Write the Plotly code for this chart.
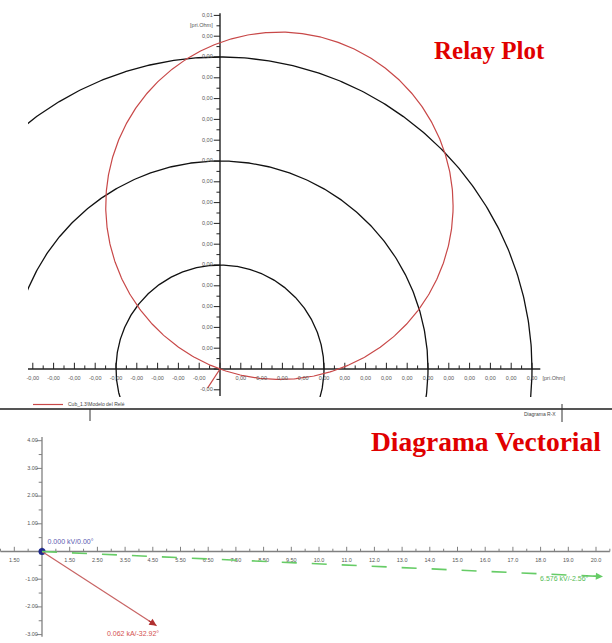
import numpy as np
import plotly.graph_objects as go

# ---------------- R-X diagram data (one unit = one axis division) ----------------
zone_radii = [5, 10, 15]                 # impedance circles centred at the origin
mho_reach = 16.7                         # mho characteristic diameter
mho_angle_deg = 70.0                     # characteristic angle
dir_line_len = 1.1                       # short directional line
dir_line_angle_deg = 237.0
rx_xtick_vals = list(range(-9, 0)) + list(range(1, 16))
rx_xtick_text = ["-0,00"] * 9 + ["0,00"] * 15
rx_ytick_vals = [-1] + list(range(1, 18))
rx_ytick_text = ["-0,00"] + ["0,00"] * 16 + ["0,01"]
rx_unit_label = "[pri.Ohm]"
relay_name = "Cub_1.3\\Modelo del Relé"

# ---------------- Phasor diagram data ----------------
phasor_labels = ["0.000 kV/0.00°", "0.062 kA/-32.92°", "6.576 kV/-2.56°"]
phasor_mag = [0.000, 0.062, 6.576]
phasor_ang = [0.00, -32.92, -2.56]
phasor_scale = [3.083, 79.5, 3.083]      # plot units per kV / per kA
phasor_colors = ["#1f2a8c", "#c86464", "#66cc66"]
phasor_text_colors = ["#5a5ab0", "#d45050", "#55bb55"]
vec_ytick_vals = [-3, -2, -1, 1, 2, 3, 4]
vec_ytick_text = ["-3.00", "-2.00", "-1.00", "1.00", "2.00", "3.00", "4.00"]
vec_xtick_vals = [-1] + list(range(1, 21))
vec_xtick_text = ["1.50", "1.50", "2.50", "3.50", "4.50", "5.50", "6.50", "7.50",
                  "8.50", "9.50", "10.0", "11.0", "12.0", "13.0", "14.0", "15.0",
                  "16.0", "17.0", "18.0", "19.0", "20.0"]

W, H = 612, 643
PX1 = 20.8   # pixels per unit, R-X diagram
PX2 = 27.7   # pixels per unit, phasor diagram
LEFT1 = 28   # left edge of the R-X plot area (px)

fig = go.Figure()
TICK_FONT = dict(family="Liberation Sans, Arial", size=5.5, color="#555555")


def seg_trace(segs, color, width, xa, ya, dash=None):
    xs, ys = [], []
    for (x0, y0, x1, y1) in segs:
        xs += [x0, x1, None]
        ys += [y0, y1, None]
    return go.Scatter(x=xs, y=ys, mode="lines", xaxis=xa, yaxis=ya,
                      line=dict(color=color, width=width, dash=dash),
                      hoverinfo="skip", showlegend=False, cliponaxis=False)


def text_trace(xs, ys, texts, pos, xa, ya, font):
    return go.Scatter(x=xs, y=ys, text=texts, mode="text", textposition=pos,
                      textfont=font, xaxis=xa, yaxis=ya, hoverinfo="skip",
                      showlegend=False, cliponaxis=False)


# ================= R-X diagram =================
x_min1, x_max1 = -9.6, 15.4
y_min1, y_max1 = -1.3, 17.1

# axes
fig.add_trace(seg_trace([(x_min1, 0, x_max1, 0), (0, y_min1, 0, y_max1)],
                        "#222222", 1.4, "x", "y"))
# ticks
xt = []
for v in range(-9, 16):
    xt.append((v, 0, v, 0.3))
for v in np.arange(-8.5, 15.5, 1.0):
    xt.append((v, 0, v, 0.17))
yt = []
for v in range(-1, 18):
    yt.append((-0.3, v, 0, v))
for v in np.arange(-0.5, 17.0, 1.0):
    yt.append((-0.17, v, 0, v))
fig.add_trace(seg_trace(xt + yt, "#222222", 1.0, "x", "y"))

# zone circles
t = np.linspace(0, 2 * np.pi, 721)
for r in zone_radii:
    fig.add_trace(go.Scatter(x=r * np.cos(t), y=r * np.sin(t), mode="lines",
                             line=dict(color="#111111", width=1.3),
                             hoverinfo="skip", showlegend=False,
                             xaxis="x", yaxis="y"))

# mho circle + directional line
a = np.deg2rad(mho_angle_deg)
cx, cy, rr = mho_reach / 2 * np.cos(a), mho_reach / 2 * np.sin(a), mho_reach / 2
b = np.deg2rad(dir_line_angle_deg)
mx = list(cx + rr * np.cos(t)) + [None, 0, dir_line_len * np.cos(b)]
my = list(cy + rr * np.sin(t)) + [None, 0, dir_line_len * np.sin(b)]
fig.add_trace(go.Scatter(x=mx, y=my, mode="lines", name=relay_name,
                         line=dict(color="#c84848", width=1.2),
                         hoverinfo="skip", showlegend=True,
                         xaxis="x", yaxis="y"))

# tick labels
fig.add_trace(text_trace(rx_xtick_vals, [-0.45] * len(rx_xtick_vals), rx_xtick_text,
                         "middle center", "x", "y", TICK_FONT))
fig.add_trace(text_trace([16.05], [-0.45], [rx_unit_label], "middle center", "x", "y", TICK_FONT))
fig.add_trace(text_trace([-0.35] * len(rx_ytick_vals), rx_ytick_vals, rx_ytick_text,
                         "middle left", "x", "y", TICK_FONT))
fig.add_trace(text_trace([-0.35], [16.5], [rx_unit_label], "middle left", "x", "y", TICK_FONT))

# ================= Phasor diagram =================
x_min2, x_max2 = -1.5, 20.5
y_min2, y_max2 = -3.08, 4.13
GRAY = "#808080"
fig.add_trace(seg_trace([(x_min2, 0, x_max2, 0), (0, y_min2, 0, y_max2)], GRAY, 1.3, "x2", "y2"))
vt = []
for v in range(-1, 21):
    vt.append((v, 0, v, 0.17))
for v in np.arange(-1.5, 20.6, 1.0):
    vt.append((v, 0, v, 0.1))
for v in range(-3, 5):
    vt.append((-0.2, v, 0, v))
for v in np.arange(-2.5, 4.0, 1.0):
    vt.append((-0.12, v, 0, v))
fig.add_trace(seg_trace(vt, GRAY, 1.0, "x2", "y2"))

fig.add_trace(text_trace(vec_xtick_vals, [-0.32] * len(vec_xtick_vals), vec_xtick_text,
                         "middle center", "x2", "y2", TICK_FONT))
fig.add_trace(text_trace([-0.15] * len(vec_ytick_vals), vec_ytick_vals, vec_ytick_text,
                         "middle left", "x2", "y2", TICK_FONT))

# phasors
tips = []
for m, ang, s in zip(phasor_mag, phasor_ang, phasor_scale):
    r = m * s
    tips.append((r * np.cos(np.deg2rad(ang)), r * np.sin(np.deg2rad(ang))))

# voltage at the origin (zero magnitude) -> dot
fig.add_trace(go.Scatter(x=[tips[0][0]], y=[tips[0][1]], mode="markers",
                         marker=dict(color=phasor_colors[0], size=7),
                         hoverinfo="skip", showlegend=False, xaxis="x2", yaxis="y2"))
# current phasor
fig.add_trace(go.Scatter(x=[0, tips[1][0]], y=[0, tips[1][1]], mode="lines",
                         line=dict(color=phasor_colors[1], width=1.2),
                         hoverinfo="skip", showlegend=False, xaxis="x2", yaxis="y2"))
# voltage phasor (dashed)
fig.add_trace(go.Scatter(x=[0, tips[2][0]], y=[0, tips[2][1]], mode="lines",
                         line=dict(color=phasor_colors[2], width=1.6, dash="longdash"),
                         hoverinfo="skip", showlegend=False, xaxis="x2", yaxis="y2"))

annotations = []
for i in (1, 2):
    tx, ty = tips[i]
    L = np.hypot(tx, ty)
    ux, uy = tx / L, ty / L
    annotations.append(dict(x=tx, y=ty, ax=tx - 0.4 * ux, ay=ty - 0.4 * uy,
                            xref="x2", yref="y2", axref="x2", ayref="y2",
                            showarrow=True, arrowhead=2, arrowsize=1.2,
                            arrowwidth=1.2, arrowcolor=phasor_colors[i] if i == 2 else "#b03030",
                            text=""))

LBL = dict(family="Liberation Sans, Arial", size=7)
fig.add_trace(text_trace([0.2], [0.35], [phasor_labels[0]], "middle right", "x2", "y2",
                         dict(LBL, color=phasor_text_colors[0])))
fig.add_trace(text_trace([tips[1][0] - 0.85], [tips[1][1] - 0.3], [phasor_labels[1]],
                         "middle center", "x2", "y2", dict(LBL, color=phasor_text_colors[1])))
fig.add_trace(text_trace([tips[2][0] - 1.4], [tips[2][1] - 0.1], [phasor_labels[2]],
                         "middle center", "x2", "y2", dict(LBL, color=phasor_text_colors[2])))

# ================= titles and frame =================
TITLE_FONT = dict(family="Liberation Serif, Times New Roman", color="#e00000")
annotations += [
    dict(text="<b>Relay Plot</b>", x=489 / W, y=1 - 50 / H, xref="paper", yref="paper",
         showarrow=False, font=dict(TITLE_FONT, size=25), xanchor="center", yanchor="middle"),
    dict(text="<b>Diagrama Vectorial</b>", x=486 / W, y=1 - 441 / H, xref="paper",
         yref="paper", showarrow=False, font=dict(TITLE_FONT, size=27.5),
         xanchor="center", yanchor="middle"),
    dict(text="Diagrama R-X", x=558 / W, y=1 - 414 / H, xref="paper", yref="paper",
         showarrow=False, xanchor="right", yanchor="middle",
         font=dict(family="Liberation Sans, Arial", size=5, color="#444444")),
]
shapes = [
    dict(type="line", xref="paper", yref="paper", x0=0, x1=1, y0=1 - 409 / H, y1=1 - 409 / H,
         line=dict(color="#555555", width=2)),
    dict(type="line", xref="paper", yref="paper", x0=90 / W, x1=90 / W,
         y0=1 - 409 / H, y1=1 - 421 / H, line=dict(color="#333333", width=1)),
    dict(type="line", xref="paper", yref="paper", x0=562 / W, x1=562 / W,
         y0=1 - 404 / H, y1=1 - 422 / H, line=dict(color="#333333", width=1)),
]

fig.update_layout(
    width=W, height=H, margin=dict(l=0, r=0, t=0, b=0),
    paper_bgcolor="white", plot_bgcolor="white",
    xaxis=dict(domain=[LEFT1 / W, 1], range=[(LEFT1 - 220) / PX1, (W - 220) / PX1],
               visible=False),
    yaxis=dict(domain=[1 - 397 / H, 1 - 10 / H], range=[(369 - 397) / PX1, (369 - 10) / PX1],
               visible=False),
    xaxis2=dict(domain=[0, 1], range=[-42 / PX2, (W - 42) / PX2], visible=False),
    yaxis2=dict(domain=[0, 1 - 425 / H], range=[(551.5 - H) / PX2, (551.5 - 425) / PX2],
                visible=False),
    showlegend=True,
    legend=dict(x=28 / W, y=1 - 390 / H, xanchor="left", yanchor="top",
                bgcolor="rgba(0,0,0,0)", font=dict(family="Liberation Sans, Arial", size=5,
                                                   color="#444444"),
                itemwidth=30, tracegroupgap=0),
    annotations=annotations, shapes=shapes,
)

fig.write_html("out.html")
